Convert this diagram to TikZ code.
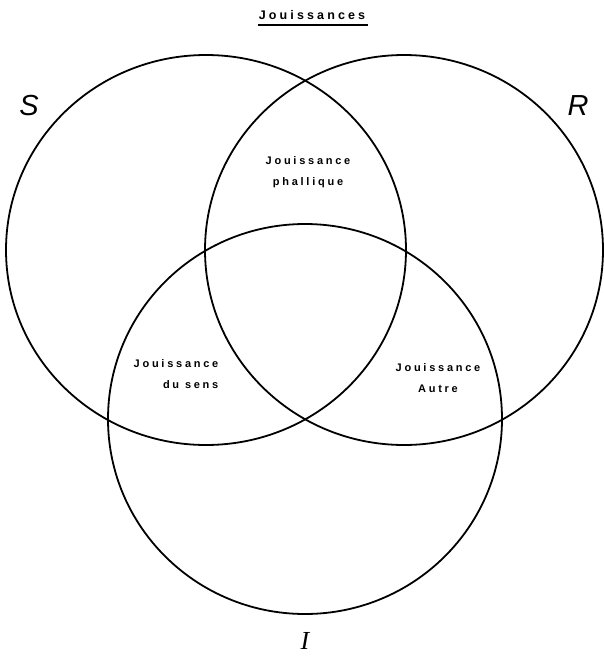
\documentclass[tikz,border=0pt]{standalone}
\usepackage{fontspec}
\setmainfont{Liberation Sans}
\newfontfamily\spacedfont[LetterSpace=25]{Liberation Sans}
\newfontfamily\ringfont{Liberation Serif}
\usetikzlibrary{positioning}

\begin{document}
\begin{tikzpicture}[x=1pt, y=-1pt,
    ring/.style={line width=1.8pt, color=black},
    zone/.style={font=\spacedfont\bfseries\fontsize{11}{21}\selectfont,
                 align=center, inner sep=0pt},
    letter/.style={font=\itshape\fontsize{29}{29}\selectfont, inner sep=0pt},
    heading/.style={font=\spacedfont\bfseries\fontsize{12.5}{14}\selectfont,
                    inner sep=0pt}
  ]
  \useasboundingbox (0,0) rectangle (604,659);
  \coordinate (cS) at (206,250);
  \coordinate (cR) at (404,250);
  \coordinate (cI) at (305,419);
  \draw[ring] (cS) ellipse [x radius=200, y radius=195];
  \draw[ring] (cR) ellipse [x radius=199, y radius=195];
  \draw[ring] (cI) ellipse [x radius=197, y radius=195];
  \node[heading] (title) at (312,15) {Jouissances};
  \draw[line width=1.8pt] ([yshift=-5pt,xshift=-1pt]title.south west) -- ([yshift=-5pt,xshift=3pt]title.south east);
  \node[letter] (S) at (29,106) {S};
  \node[letter] (R) at (578,106) {R};
  \node[letter, font=\ringfont\itshape\fontsize{26}{26}\selectfont] (I) at (305,641) {I};
  \node[zone] (phal) at (308,172) {Jouissance\\phallique};
  \node[zone, align=right] (sens) at (176,374) {Jouissance\\du sens};
  \node[zone] (autre) at (438,378) {Jouissance\\Autre};
\end{tikzpicture}
\end{document}
